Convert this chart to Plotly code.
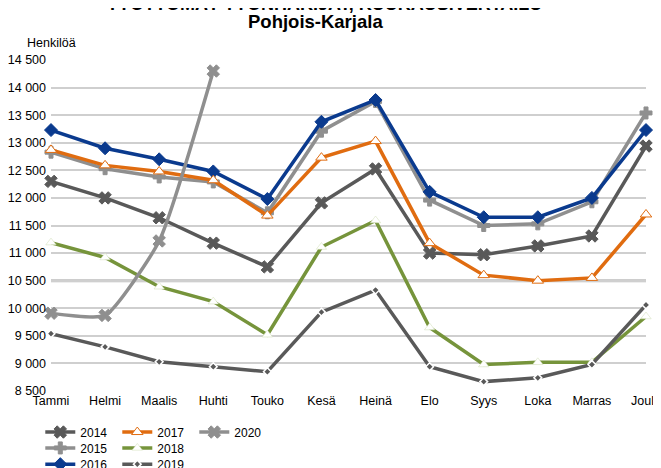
import plotly.graph_objects as go

months = ["Tammi", "Helmi", "Maalis", "Huhti", "Touko", "Kesä", "Heinä",
          "Elo", "Syys", "Loka", "Marras", "Joulu"]

v2014 = [12300, 12000, 11640, 11180, 10750, 11910, 12525, 11000, 10970, 11130, 11310, 12940]
v2015 = [12830, 12530, 12380, 12290, 11730, 13210, 13750, 11960, 11500, 11530, 11930, 13540]
v2016 = [13230, 12900, 12700, 12480, 11980, 13380, 13775, 12110, 11650, 11650, 12000, 13230]
v2017 = [12870, 12590, 12480, 12320, 11680, 12730, 13030, 11180, 10600, 10500, 10550, 11700]
v2018 = [11190, 10920, 10390, 10120, 9520, 11110, 11590, 9650, 8980, 9020, 9020, 9850]
v2019 = [9540, 9300, 9030, 8940, 8850, 9930, 10330, 8940, 8670, 8740, 8980, 10060]
v2020 = [9910, 9870, 11220, 14300]

ytick_vals = [8500, 9000, 9500, 10000, 10500, 11000, 11500, 12000, 12500, 13000, 13500, 14000, 14500]
ytick_text = ["8 500", "9 000", "9 500", "10 000", "10 500", "11 000", "11 500",
              "12 000", "12 500", "13 000", "13 500", "14 000", "14 500"]

FONT = "Liberation Sans, Arial, sans-serif"
fig = go.Figure()

def add(name, vals, color, symbol, msize, mcolor, mline_color, mline_w, legend, shape="linear", width=3.5):
    fig.add_trace(go.Scatter(
        x=months[:len(vals)], y=vals, name=name, mode="lines+markers",
        line=dict(color=color, width=width, shape=shape, smoothing=0.5),
        marker=dict(symbol=symbol, size=msize, color=mcolor,
                    line=dict(color=mline_color, width=mline_w)),
        cliponaxis=False, legend=legend))

add("2014", v2014, "#595959", "x", 11, "#595959", "#595959", 1, "legend")
add("2015", v2015, "#8f8f8f", "cross", 10, "#8f8f8f", "#8f8f8f", 1, "legend2")
add("2016", v2016, "#0a3a8e", "diamond", 10, "#0a3a8e", "#0a3a8e", 1, "legend3")
add("2017", v2017, "#e06c10", "triangle-up", 10, "white", "#e06c10", 1, "legend")
add("2018", v2018, "#76943b", "triangle-up", 9, "white", "#cfdcb5", 0.5, "legend2")
add("2019", v2019, "#595959", "diamond", 6, "#595959", "white", 1.5, "legend3")
add("2020", v2020, "#8f8f8f", "x", 11, "#8f8f8f", "#8f8f8f", 1, "legend", shape="spline")

# thicker horizontal line where the category axis crosses
fig.add_shape(type="line", xref="paper", yref="y", x0=0, x1=1, y0=10500, y1=10500,
              line=dict(color="#bdbdbd", width=3), layer="below")

fig.add_annotation(text="<b>TYÖTTÖMÄT TYÖNHAKIJAT, KUUKAUSIVERTAILU</b>", xref="paper", yref="paper",
                   x=0.46, y=1.17, xanchor="center", yanchor="middle", showarrow=False,
                   font=dict(size=18, color="#000000", family=FONT))
fig.add_annotation(text="<b>Pohjois-Karjala</b>", xref="paper", yref="paper",
                   x=0.445, y=1.116, xanchor="center", yanchor="middle", showarrow=False,
                   font=dict(size=18.5, color="#000000", family=FONT))
fig.add_annotation(text="Henkilöä", xref="paper", yref="paper",
                   x=0.0, y=1.051, xanchor="center", yanchor="middle", showarrow=False,
                   font=dict(size=12.5, color="#000000", family=FONT))

leg_common = dict(orientation="h", yanchor="middle", xanchor="left", bgcolor="rgba(0,0,0,0)",
                  font=dict(size=12, color="#000000", family=FONT), tracegroupgap=0,
                  itemwidth=30, entrywidth=32, entrywidthmode="pixels", x=-0.018)
fig.update_layout(
    width=653, height=460,
    margin=dict(l=43, r=15, t=52, b=77, autoexpand=False),
    paper_bgcolor="white", plot_bgcolor="white",
    font=dict(family=FONT, size=12, color="#000000"),
    showlegend=True,
    legend=dict(y=-0.124, **leg_common),
    legend2=dict(y=-0.172, **leg_common),
    legend3=dict(y=-0.221, **leg_common),
    xaxis=dict(type="category", range=[0, 11], showgrid=False, showline=False,
               ticks="", tickfont=dict(size=12.5, color="#000000")),
    yaxis=dict(range=[8500, 14500], tickvals=ytick_vals, ticktext=ytick_text,
               showgrid=True, gridcolor="#cfcfcf", gridwidth=1.5, zeroline=False,
               showline=False, ticks="", ticklabelstandoff=4,
               tickfont=dict(size=12.5, color="#000000")),
)

fig.write_html("out.html")
